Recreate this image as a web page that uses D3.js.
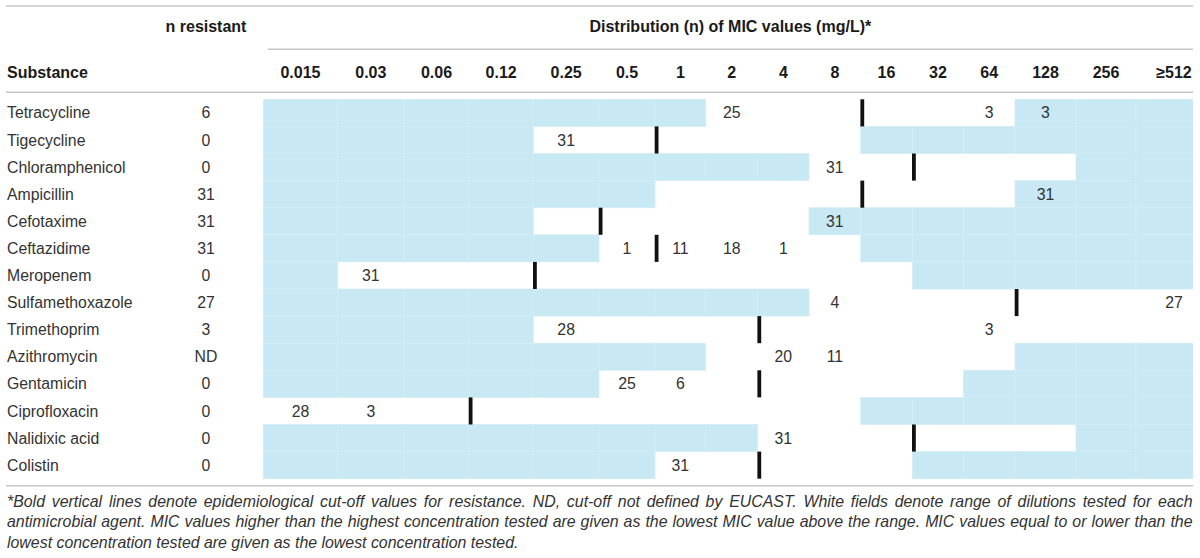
<!DOCTYPE html>
<html>
<head>
<meta charset="utf-8">
<script src="https://cdn.jsdelivr.net/npm/d3@7"></script>
<style>
  body { margin: 0; background: #fff; }
  svg { display: block; font-family: "Liberation Sans", Arial, sans-serif; }
</style>
</head>
<body>
<svg id="chart" width="1200" height="558"></svg>
<script>
// MIC dilution columns
var micLabels = ["0.015", "0.03", "0.06", "0.12", "0.25", "0.5", "1", "2", "4", "8",
                 "16", "32", "64", "128", "256", "\u2265512"];

var substances = ["Tetracycline", "Tigecycline", "Chloramphenicol", "Ampicillin",
                  "Cefotaxime", "Ceftazidime", "Meropenem", "Sulfamethoxazole",
                  "Trimethoprim", "Azithromycin", "Gentamicin", "Ciprofloxacin",
                  "Nalidixic acid", "Colistin"];

var nResistant = ["6", "0", "0", "31", "31", "31", "0", "27", "3", "ND", "0", "0", "0", "0"];

// lowest and highest concentration tested (white fields)
var testedLow = ["2", "0.25", "8", "1", "0.25", "0.5", "0.03", "8", "0.25", "2",
                 "0.5", "0.015", "4", "1"];
var testedHigh = ["64", "8", "128", "64", "4", "8", "16", "\u2265512", "\u2265512", "64",
                  "32", "8", "128", "16"];

// epidemiological cut-off (bar drawn at the left of this column)
var cutoffs = ["16", "1", "32", "16", "0.5", "1", "0.25", "128", "4", null,
               "4", "0.12", "32", "4"];

// number of isolates per MIC value
var micCounts = [
  [["2", 25], ["64", 3], ["128", 3]],
  [["0.25", 31]],
  [["8", 31]],
  [["128", 31]],
  [["8", 31]],
  [["0.5", 1], ["1", 11], ["2", 18], ["4", 1]],
  [["0.03", 31]],
  [["8", 4], ["\u2265512", 27]],
  [["0.25", 28], ["64", 3]],
  [["4", 20], ["8", 11]],
  [["0.5", 25], ["1", 6]],
  [["0.015", 28], ["0.03", 3]],
  [["4", 31]],
  [["1", 31]]
];

var footnoteLines = [
  "*Bold vertical lines denote epidemiological cut-off values for resistance. ND, cut-off not defined by EUCAST. White fields denote range of dilutions tested for each",
  "antimicrobial agent. MIC values higher than the highest concentration tested are given as the lowest MIC value above the range. MIC values equal to or lower than the",
  "lowest concentration tested are given as the lowest concentration tested."
];

// layout
var left = 7, right = 1193;
var tableX = 263.3;
var colWidths = [74.4, 66.3, 65, 64.3, 65.7, 56, 50.7, 52, 51.3, 51.7, 51.6, 51.2, 51.5, 61, 60, 76];
var edges = d3.cumsum([tableX].concat(colWidths));
var blue = "#c8e8f3", ruleColor = "#c6c6c6";

var xLeft = d3.scaleOrdinal().domain(micLabels).range(edges.slice(0, micLabels.length));
var xWidth = d3.scaleOrdinal().domain(micLabels).range(colWidths);
var y = d3.scaleBand().domain(substances).range([99.3, 99.3 + 27.1 * substances.length]);

var svg = d3.select("#chart");

svg.append("clipPath").attr("id", "tableClip")
  .append("rect").attr("x", 0).attr("y", 0).attr("width", right).attr("height", 558);

var table = svg.append("g").attr("clip-path", "url(#tableClip)");

// blue cells outside the tested range
var cells = [];
substances.forEach(function(s, i) {
  var lo = micLabels.indexOf(testedLow[i]), hi = micLabels.indexOf(testedHigh[i]);
  micLabels.forEach(function(m, j) {
    if (j < lo || j > hi) cells.push({s: s, m: m});
  });
});

table.selectAll(".cell")
  .data(cells)
  .enter().append("rect")
    .attr("class", "cell")
    .attr("x", function(d) { return xLeft(d.m); })
    .attr("y", function(d) { return y(d.s); })
    .attr("width", function(d) { return xWidth(d.m); })
    .attr("height", y.bandwidth())
    .style("fill", blue)
    .style("stroke", "#d3edf6")
    .style("stroke-width", 0.8);

// count values
var counts = [];
substances.forEach(function(s, i) {
  micCounts[i].forEach(function(c) { counts.push({s: s, m: c[0], n: c[1]}); });
});

table.selectAll(".count")
  .data(counts)
  .enter().append("text")
    .attr("class", "count")
    .attr("x", function(d) { return xLeft(d.m) + xWidth(d.m) / 2; })
    .attr("y", function(d) { return y(d.s) + y.bandwidth() / 2 + 5.6; })
    .attr("text-anchor", "middle")
    .style("font-size", "15.8px")
    .style("fill", "#333")
    .text(function(d) { return d.n; });

// cut-off bars
var bars = substances.map(function(s, i) { return {s: s, m: cutoffs[i]}; })
  .filter(function(d) { return d.m !== null; });

table.selectAll(".cutoff")
  .data(bars)
  .enter().append("rect")
    .attr("class", "cutoff")
    .attr("x", function(d) { return xLeft(d.m) - 0.3; })
    .attr("y", function(d) { return y(d.s); })
    .attr("width", 3.8)
    .attr("height", y.bandwidth())
    .style("fill", "#111");

// header
var hdr = table.append("g")
  .style("font-weight", "bold")
  .style("font-size", "16px")
  .style("fill", "#1a1a1a");

hdr.append("text").attr("x", 206).attr("y", 32).attr("text-anchor", "middle").text("n resistant");
hdr.append("text").attr("x", (267.7 + right) / 2).attr("y", 32).attr("text-anchor", "middle")
  .text("Distribution (n) of MIC values (mg/L)*");
hdr.append("text").attr("x", left).attr("y", 78).text("Substance");
hdr.selectAll(".mic")
  .data(micLabels)
  .enter().append("text")
    .attr("class", "mic")
    .attr("x", function(d) { return xLeft(d) + xWidth(d) / 2; })
    .attr("y", 78)
    .attr("text-anchor", "middle")
    .text(function(d) { return d; });

// rules
var rules = [
  {x1: left - 1, x2: right, y: 6},
  {x1: 267.7, x2: right, y: 49.3},
  {x1: left - 1, x2: right, y: 92.3},
  {x1: left - 1, x2: right, y: 485.7}
];
table.selectAll(".rule")
  .data(rules)
  .enter().append("line")
    .attr("class", "rule")
    .attr("x1", function(d) { return d.x1; })
    .attr("x2", function(d) { return d.x2; })
    .attr("y1", function(d) { return d.y; })
    .attr("y2", function(d) { return d.y; })
    .style("stroke", ruleColor)
    .style("stroke-width", 1.6);

// substance names and n resistant
var rows = table.selectAll(".row")
  .data(substances)
  .enter().append("g")
    .attr("class", "row")
    .attr("transform", function(d) { return "translate(0," + (y(d) + y.bandwidth() / 2 + 5.6) + ")"; })
    .style("font-size", "15.8px")
    .style("fill", "#333");
rows.append("text").attr("x", left).text(function(d) { return d; });
rows.append("text").attr("x", 206).attr("text-anchor", "middle")
  .text(function(d, i) { return nResistant[i]; });

// footnote, justified except for the last line
var foot = svg.append("g")
  .style("font-style", "italic")
  .style("font-size", "15.9px")
  .style("fill", "#333");

foot.selectAll("text")
  .data(footnoteLines)
  .enter().append("text")
    .attr("x", left)
    .attr("y", function(d, i) { return 506.5 + i * 20.9; })
    .text(function(d) { return d; })
    .each(function(d, i) {
      if (i === footnoteLines.length - 1) return;
      var w = this.getComputedTextLength();
      var gaps = d.split(" ").length - 1;
      var extra = (right - 0.5 - left - w) / gaps;
      d3.select(this).style("word-spacing", extra + "px");
    });
</script>
</body>
</html>
